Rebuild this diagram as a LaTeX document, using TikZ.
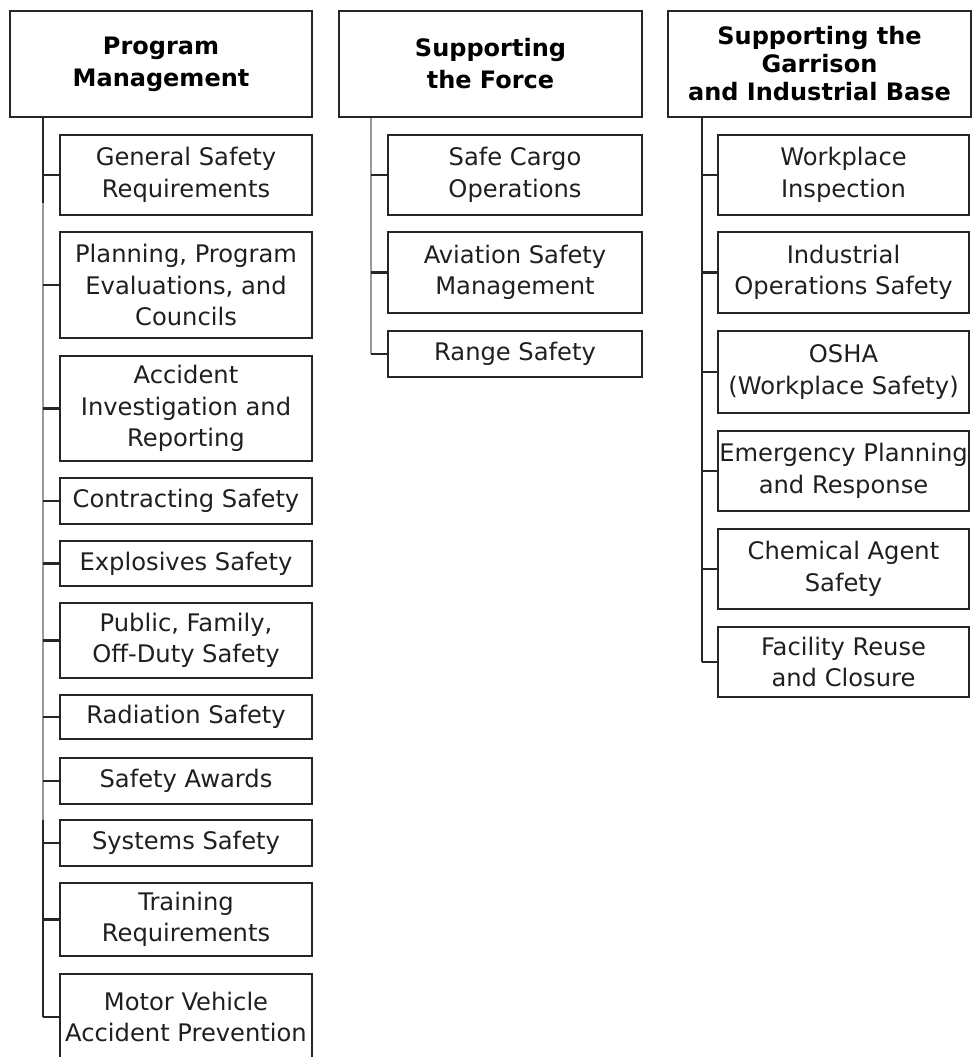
\documentclass[tikz,border=0pt]{standalone}
\usepackage{fontspec}
\setmainfont{DejaVu Sans}
\begin{document}
\begin{tikzpicture}[x=1pt,y=1pt,
  box/.style={draw=black!85, line width=2.2pt, inner sep=0pt, align=center,
    text=black!88, font=\fontsize{24.2}{31.5}\selectfont},
  head/.style={box, text=black, font=\fontsize{24}{32}\selectfont\bfseries},
  tick/.style={draw=black!85, line width=2.2pt},
  trunkdark/.style={draw=black!85, line width=2.2pt},
  trunkgray/.style={draw=black!40, line width=2.2pt}]
\useasboundingbox (0,0) rectangle (972,-1057);
\newcommand\mkbox[7]{\node[#1, minimum width=#5-#3, minimum height=#6-#4] (#2) at ({(#3+#5)/2},{-(#4+#6)/2}) {#7};}
% headers
\mkbox{head}{pm}{10}{11}{312}{117}{Program\\Management}
\mkbox{head}{sf}{339}{11}{642}{117}{Supporting\\the Force}
\mkbox{head, font=\fontsize{24}{28}\selectfont\bfseries}{sg}{668}{11}{971}{117}{Supporting the\\Garrison\\and Industrial Base}
% column 1
\mkbox{box}{gs}{60}{135}{312}{215}{General Safety\\Requirements}
\mkbox{box}{pl}{60}{232}{312}{338}{Planning, Program\\Evaluations, and\\Councils}
\mkbox{box}{ai}{60}{356}{312}{461}{Accident\\Investigation and\\Reporting}
\mkbox{box}{cs}{60}{478}{312}{524}{Contracting Safety}
\mkbox{box}{es}{60}{541}{312}{586}{Explosives Safety}
\mkbox{box}{pf}{60}{603}{312}{678}{Public, Family,\\Off-Duty Safety}
\mkbox{box}{rs}{60}{695}{312}{739}{Radiation Safety}
\mkbox{box}{sa}{60}{758}{312}{804}{Safety Awards}
\mkbox{box}{ss}{60}{820}{312}{866}{Systems Safety}
\mkbox{box}{tr}{60}{883}{312}{956}{Training\\Requirements}
\mkbox{box}{mv}{60}{974}{312}{1060}{Motor Vehicle\\Accident Prevention}
% column 2
\mkbox{box}{sc}{388}{135}{642}{215}{Safe Cargo\\Operations}
\mkbox{box}{av}{388}{232}{642}{313}{Aviation Safety\\Management}
\mkbox{box}{rg}{388}{331}{642}{377}{Range Safety}
% column 3
\mkbox{box}{wi}{718}{135}{969}{215}{Workplace\\Inspection}
\mkbox{box}{io}{718}{232}{969}{313}{Industrial\\Operations Safety}
\mkbox{box}{os}{718}{331}{969}{413}{OSHA\\(Workplace Safety)}
\mkbox{box}{ep}{718}{431}{969}{511}{Emergency Planning\\and Response}
\mkbox{box}{ca}{718}{529}{969}{609}{Chemical Agent\\Safety}
\mkbox{box}{fr}{718}{627}{969}{697}{Facility Reuse\\and Closure}
% trunk coordinates
\coordinate (t1) at (43,0);
\coordinate (t2) at (371,0);
\coordinate (t3) at (702,0);
\coordinate (g1a) at (43,-203);
\coordinate (g1b) at (43,-820);
% column 1 trunk
\draw[trunkdark] (pm.south -| t1) -- (g1a);
\draw[trunkgray] (g1a) -- (g1b);
\draw[trunkdark] (g1b) -- (mv.west -| t1);
\foreach \n in {gs,pl,ai,cs,es,pf,rs,sa,ss,tr,mv} \draw[tick] (\n.west) -- (\n.west -| t1);
% column 2 trunk
\draw[trunkgray] (sf.south -| t2) -- (rg.west -| t2);
\foreach \n in {sc,av,rg} \draw[tick] (\n.west) -- (\n.west -| t2);
% column 3 trunk
\draw[trunkdark] (sg.south -| t3) -- (fr.west -| t3);
\foreach \n in {wi,io,os,ep,ca,fr} \draw[tick] (\n.west) -- (\n.west -| t3);
\end{tikzpicture}
\end{document}
